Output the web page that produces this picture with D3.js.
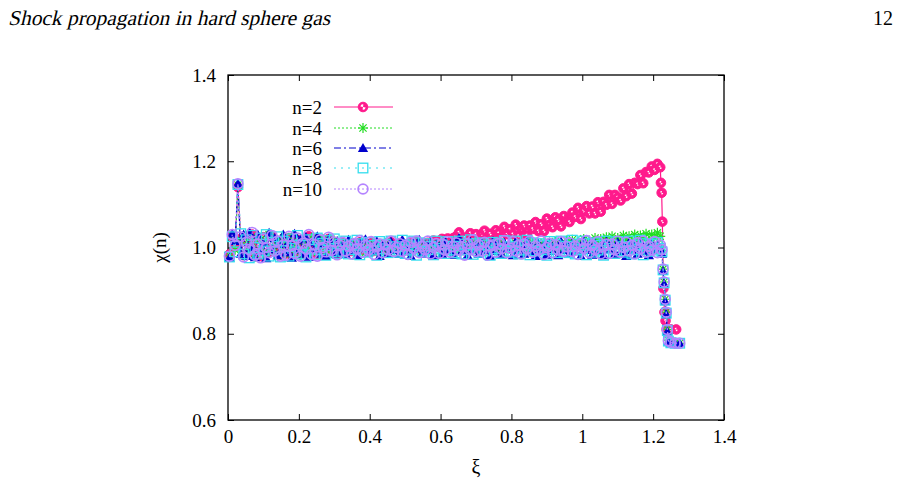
<!DOCTYPE html>
<html>
<head>
<meta charset="utf-8">
<script src="https://cdn.jsdelivr.net/npm/d3@7"></script>
<style>
  body { margin: 0; background: #fff; }
  svg text { font-family: "Liberation Serif", "DejaVu Serif", serif; fill: #000; }
</style>
</head>
<body>
<div id="chart"></div>
<script>
var width = 900, height = 490;

// shared xi grid (before the shock front)
var xiGrid = [
  0.004, 0.012, 0.020, 0.028, 0.036, 0.044, 0.052, 0.060, 0.068, 0.076,
  0.084, 0.092, 0.100, 0.108, 0.116, 0.124, 0.132, 0.140, 0.148, 0.156,
  0.164, 0.172, 0.180, 0.188, 0.196, 0.204, 0.212, 0.220, 0.228, 0.236,
  0.244, 0.252, 0.260, 0.268, 0.276, 0.284, 0.292, 0.300, 0.308, 0.316,
  0.324, 0.332, 0.340, 0.348, 0.356, 0.364, 0.372, 0.380, 0.388, 0.396,
  0.404, 0.412, 0.420, 0.428, 0.436, 0.444, 0.452, 0.460, 0.468, 0.476,
  0.484, 0.492, 0.500, 0.508, 0.516, 0.524, 0.532, 0.540, 0.548, 0.556,
  0.564, 0.572, 0.580, 0.588, 0.596, 0.604, 0.612, 0.620, 0.628, 0.636,
  0.644, 0.652, 0.660, 0.668, 0.676, 0.684, 0.692, 0.700, 0.708, 0.716,
  0.724, 0.732, 0.740, 0.748, 0.756, 0.764, 0.772, 0.780, 0.788, 0.796,
  0.804, 0.812, 0.820, 0.828, 0.836, 0.844, 0.852, 0.860, 0.868, 0.876,
  0.884, 0.892, 0.900, 0.908, 0.916, 0.924, 0.932, 0.940, 0.948, 0.956,
  0.964, 0.972, 0.980, 0.988, 0.996, 1.004, 1.012, 1.020, 1.028, 1.036,
  1.044, 1.052, 1.060, 1.068, 1.076, 1.084, 1.092, 1.100, 1.108, 1.116,
  1.124, 1.132, 1.140, 1.148, 1.156, 1.164, 1.172, 1.180, 1.188, 1.196,
  1.204, 1.212, 1.220];

// xi values across the front
var xiTail2 = [1.222, 1.224, 1.226, 1.229, 1.232, 1.235, 1.238, 1.250, 1.265];
var xiTail = [1.225, 1.228, 1.231, 1.234, 1.237, 1.240, 1.243, 1.250, 1.262, 1.275];

var chi2 = [
  0.984, 1.026, 1.002, 1.140, 1.020, 0.982, 1.015, 0.992, 1.030, 0.986,
  1.010, 0.980, 1.024, 0.998, 0.990, 1.025, 0.995, 1.012, 0.984, 1.008,
  0.986, 1.022, 1.002, 0.990, 1.018, 0.984, 1.012, 0.998, 1.026, 0.988,
  1.008, 0.985, 1.016, 1.002, 0.992, 1.020, 0.996, 1.012, 0.986, 1.006,
  1.010, 0.996, 1.004, 0.992, 1.008, 1.000, 1.012, 0.995, 1.006, 0.998,
  1.010, 0.992, 1.004, 1.008, 0.995, 1.006, 1.000, 1.012, 0.997, 1.004,
  1.009, 0.998, 1.006, 0.994, 1.010, 1.002, 1.013, 0.998, 1.008, 1.003,
  1.011, 1.002, 1.016, 1.002, 1.012, 1.020, 1.007, 1.021, 1.012, 1.022,
  1.026, 1.035, 1.011, 1.023, 1.011, 1.033, 1.019, 1.031, 1.016, 1.031,
  1.039, 1.020, 1.032, 1.016, 1.040, 1.033, 1.024, 1.048, 1.031, 1.042,
  1.031, 1.053, 1.027, 1.044, 1.051, 1.028, 1.051, 1.043, 1.059, 1.038,
  1.054, 1.038, 1.067, 1.052, 1.047, 1.070, 1.063, 1.049, 1.073, 1.062,
  1.059, 1.081, 1.071, 1.092, 1.066, 1.085, 1.096, 1.079, 1.095, 1.079,
  1.105, 1.083, 1.106, 1.099, 1.122, 1.101, 1.122, 1.116, 1.109, 1.137,
  1.119, 1.147, 1.125, 1.150, 1.147, 1.168, 1.149, 1.175, 1.174, 1.188,
  1.180, 1.194, 1.186];
var tail2 = [1.150, 1.127, 1.060, 0.905, 0.850, 0.830, 0.810, 0.810, 0.810];

var chi4 = [
  0.982, 1.028, 0.995, 1.145, 1.018, 0.984, 1.026, 0.990, 1.012, 0.979,
  1.024, 0.996, 1.015, 0.985, 1.030, 0.992, 1.006, 0.980, 1.020, 0.998,
  1.012, 0.984, 1.025, 0.994, 1.008, 0.982, 1.018, 1.000, 0.988, 1.022,
  0.992, 1.014, 0.985, 1.020, 0.996, 1.006, 0.988, 1.016, 0.994, 1.010,
  0.990, 1.006, 0.996, 1.010, 0.992, 1.003, 0.998, 1.009, 0.989, 1.005,
  0.997, 1.008, 0.991, 1.004, 0.999, 1.010, 0.990, 1.006, 0.996, 1.003,
  0.992, 1.009, 0.997, 1.004, 0.989, 1.007, 0.998, 1.010, 0.993, 1.005,
  0.998, 1.008, 0.992, 1.004, 1.000, 1.010, 0.991, 1.006, 0.996, 1.003,
  0.993, 1.009, 0.998, 1.005, 0.990, 1.007, 0.997, 1.011, 0.994, 1.004,
  0.999, 1.008, 0.992, 1.005, 1.000, 1.010, 0.993, 1.006, 0.997, 1.004,
  0.994, 1.010, 0.999, 1.006, 0.992, 1.008, 1.000, 1.012, 0.996, 1.006,
  1.002, 1.012, 0.996, 1.008, 1.004, 1.014, 0.998, 1.010, 1.004, 1.016,
  1.006, 1.018, 1.002, 1.012, 1.008, 1.020, 1.004, 1.016, 1.010, 1.022,
  1.008, 1.020, 1.012, 1.024, 1.010, 1.026, 1.014, 1.022, 1.012, 1.028,
  1.016, 1.026, 1.014, 1.030, 1.018, 1.028, 1.020, 1.032, 1.016, 1.030,
  1.022, 1.034, 1.026];
var tail4 = [1.000, 0.950, 0.920, 0.880, 0.850, 0.810, 0.785, 0.780, 0.778, 0.778];

var chi6 = [
  0.976, 1.032, 1.015, 1.148, 0.985, 1.030, 0.980, 1.036, 1.000, 0.977,
  1.030, 0.990, 1.010, 0.975, 1.034, 0.995, 1.022, 0.982, 1.008, 1.030,
  0.988, 1.015, 0.976, 1.032, 0.995, 1.018, 0.985, 1.024, 0.978, 1.012,
  0.996, 1.026, 0.985, 1.008, 0.980, 1.020, 1.002, 0.986, 1.015, 0.990,
  1.006, 0.985, 1.018, 0.994, 1.003, 0.982, 1.012, 0.998, 1.019, 0.988,
  1.003, 0.992, 1.015, 0.980, 1.006, 1.000, 0.986, 1.014, 0.994, 1.009,
  0.985, 1.018, 0.992, 1.005, 0.980, 1.012, 0.997, 1.018, 0.986, 1.006,
  0.991, 1.015, 0.982, 1.008, 1.002, 0.985, 1.016, 0.994, 1.008, 0.983,
  1.009, 1.022, 0.991, 1.003, 0.982, 1.014, 0.995, 1.006, 0.985, 1.012,
  0.994, 1.005, 0.980, 1.015, 0.992, 1.008, 0.985, 1.011, 0.997, 1.005,
  0.982, 1.014, 0.994, 1.006, 0.985, 1.015, 0.991, 1.003, 0.980, 1.009,
  0.995, 1.006, 0.983, 1.012, 0.992, 1.003, 0.982, 1.014, 0.994, 1.008,
  0.985, 1.011, 0.991, 1.005, 0.980, 1.015, 0.994, 1.006, 0.983, 1.009,
  0.992, 1.003, 0.982, 1.014, 0.995, 1.008, 0.985, 1.012, 0.991, 1.005,
  0.980, 1.012, 0.994, 1.006, 0.985, 1.014, 0.992, 1.003, 0.982, 1.009,
  0.994, 1.006, 0.997];
var tail6 = [0.985, 0.945, 0.915, 0.875, 0.845, 0.805, 0.782, 0.778, 0.778, 0.778];

var chi8 = [
  0.978, 1.025, 0.990, 1.146, 1.032, 0.985, 1.018, 0.976, 1.028, 1.000,
  0.985, 1.022, 0.992, 1.030, 0.980, 1.012, 0.995, 1.025, 0.978, 1.015,
  1.002, 0.980, 1.020, 0.990, 1.028, 0.985, 1.005, 0.978, 1.018, 0.996,
  0.984, 1.022, 0.995, 1.010, 0.982, 1.016, 0.990, 1.020, 0.986, 1.008,
  0.991, 1.015, 0.985, 1.006, 0.995, 1.017, 0.983, 1.009, 0.989, 1.012,
  0.994, 1.005, 0.982, 1.014, 0.997, 1.008, 0.988, 1.015, 0.992, 1.002,
  0.989, 1.017, 0.986, 1.006, 0.994, 1.015, 0.982, 1.011, 0.991, 1.009,
  0.995, 1.003, 0.983, 1.015, 0.998, 1.006, 0.986, 1.014, 0.994, 1.003,
  0.988, 1.015, 0.985, 1.008, 0.995, 1.018, 0.984, 1.009, 0.989, 1.011,
  0.992, 1.006, 0.982, 1.012, 0.997, 1.009, 0.986, 1.016, 0.991, 1.002,
  0.989, 1.015, 0.985, 1.006, 0.994, 1.017, 0.983, 1.011, 0.992, 1.009,
  0.995, 1.005, 0.982, 1.014, 0.997, 1.008, 0.988, 1.015, 0.991, 1.003,
  0.988, 1.017, 0.985, 1.008, 0.995, 1.015, 0.983, 1.009, 0.989, 1.011,
  0.994, 1.005, 0.982, 1.015, 0.998, 1.006, 0.986, 1.014, 0.992, 1.002,
  0.989, 1.015, 0.985, 1.006, 0.995, 1.017, 0.983, 1.009, 0.991, 1.008,
  0.994, 1.012, 0.998];
var tail8 = [0.990, 0.948, 0.918, 0.878, 0.848, 0.808, 0.783, 0.779, 0.778, 0.778];

var chi10 = [
  0.980, 1.030, 1.005, 1.148, 1.025, 0.978, 1.012, 0.995, 1.035, 0.982,
  1.008, 0.976, 1.020, 1.000, 0.988, 1.028, 0.992, 1.015, 0.980, 1.006,
  0.982, 1.026, 1.004, 0.986, 1.022, 0.980, 1.010, 0.996, 1.030, 0.984,
  1.007, 0.980, 1.018, 1.000, 0.990, 1.024, 0.993, 1.013, 0.983, 1.005,
  1.012, 0.992, 1.003, 0.985, 1.009, 0.997, 1.016, 0.989, 1.005, 0.994,
  1.014, 0.984, 1.002, 1.008, 0.988, 1.006, 0.995, 1.015, 0.991, 1.000,
  1.009, 0.991, 1.005, 0.984, 1.012, 0.998, 1.015, 0.988, 1.003, 0.995,
  1.015, 0.985, 1.000, 1.009, 0.986, 1.008, 0.994, 1.014, 0.989, 1.002,
  1.011, 0.994, 1.002, 0.982, 1.009, 0.995, 1.018, 0.991, 1.006, 0.992,
  1.012, 0.982, 1.003, 1.006, 0.989, 1.009, 0.997, 1.016, 0.988, 0.998,
  1.014, 0.992, 1.005, 0.985, 1.008, 0.997, 1.015, 0.989, 1.003, 0.994,
  1.015, 0.984, 1.000, 1.009, 0.988, 1.006, 0.994, 1.014, 0.991, 1.002,
  1.011, 0.991, 1.003, 0.984, 1.009, 0.998, 1.016, 0.988, 1.005, 0.995,
  1.014, 0.985, 1.002, 1.008, 0.986, 1.008, 0.995, 1.015, 0.989, 1.000,
  1.012, 0.992, 1.005, 0.985, 1.011, 0.997, 1.015, 0.989, 1.003, 0.994,
  1.014, 0.988, 1.006];
var tail10 = [0.995, 0.950, 0.920, 0.880, 0.850, 0.810, 0.784, 0.780, 0.778, 0.778];

var seriesNames = ["n=2", "n=4", "n=6", "n=8", "n=10"];
var seriesColors = ["#ff1a8c", "#22dd22", "#0000cc", "#33ddee", "#b484ff"];

var xTicks = [0, 0.2, 0.4, 0.6, 0.8, 1, 1.2, 1.4];
var xTickLabels = ["0", "0.2", "0.4", "0.6", "0.8", "1", "1.2", "1.4"];
var yTicks = [0.6, 0.8, 1.0, 1.2, 1.4];
var yTickLabels = ["0.6", "0.8", "1.0", "1.2", "1.4"];

var series = [
  { name: seriesNames[0], xs: xiGrid.concat(xiTail2), ys: chi2.concat(tail2), color: seriesColors[0], dash: null, marker: "dotcircle" },
  { name: seriesNames[1], xs: xiGrid.concat(xiTail), ys: chi4.concat(tail4), color: seriesColors[1], dash: "2,2", marker: "star" },
  { name: seriesNames[2], xs: xiGrid.concat(xiTail), ys: chi6.concat(tail6), color: seriesColors[2], dash: "7,3,2,3", marker: "triangle" },
  { name: seriesNames[3], xs: xiGrid.concat(xiTail), ys: chi8.concat(tail8), color: seriesColors[3], dash: "2,5", marker: "square" },
  { name: seriesNames[4], xs: xiGrid.concat(xiTail), ys: chi10.concat(tail10), color: seriesColors[4], dash: "2,2", marker: "circle" }
];

var serif = "'Liberation Serif', 'DejaVu Serif', serif";

var svg = d3.select("#chart").append("svg")
  .attr("width", width)
  .attr("height", height);

// page header (regular serif, slanted by hand)
svg.append("g")
  .attr("transform", "translate(8,25) skewX(-13)")
  .append("text")
  .attr("textLength", 322)
  .attr("lengthAdjust", "spacingAndGlyphs")
  .style("font-family", serif)
  .style("font-size", "21px")
  .text("Shock propagation in hard sphere gas");
svg.append("text")
  .attr("x", 893).attr("y", 25)
  .attr("text-anchor", "end")
  .style("font-family", serif)
  .style("font-size", "20px")
  .text("12");

var x = d3.scaleLinear().domain([0, 1.4]).range([228, 724]);
var y = d3.scaleLinear().domain([0.6, 1.4]).range([420, 75]);

// axes (ticks pointing inwards, mirrored)
svg.append("g")
  .attr("transform", "translate(0," + y(0.6) + ")")
  .call(d3.axisBottom(x).tickValues(xTicks).tickSize(-6).tickPadding(10)
    .tickFormat(function(d, i) { return xTickLabels[i]; }));
svg.append("g")
  .attr("transform", "translate(" + x(0) + ",0)")
  .call(d3.axisLeft(y).tickValues(yTicks).tickSize(-6).tickPadding(12)
    .tickFormat(function(d, i) { return yTickLabels[i]; }));
svg.append("g")
  .attr("transform", "translate(0," + y(1.4) + ")")
  .call(d3.axisTop(x).tickValues(xTicks).tickSize(-6).tickFormat(""));
svg.append("g")
  .attr("transform", "translate(" + x(1.4) + ",0)")
  .call(d3.axisRight(y).tickValues(yTicks).tickSize(-6).tickFormat(""));

svg.selectAll(".domain").remove();
svg.selectAll(".tick line").attr("stroke", "#000");
svg.selectAll(".tick text")
  .style("font-family", serif)
  .style("font-size", "19px")
  .attr("fill", "#000");

svg.append("rect")
  .attr("x", x(0)).attr("y", y(1.4))
  .attr("width", x(1.4) - x(0)).attr("height", y(0.6) - y(1.4))
  .attr("fill", "none").attr("stroke", "#000").attr("stroke-width", 1.3);

// axis titles
svg.append("text")
  .attr("x", x(0.7)).attr("y", 474)
  .attr("text-anchor", "middle")
  .style("font-family", serif)
  .style("font-size", "20px")
  .text("ξ");
svg.append("text")
  .attr("transform", "translate(166," + y(1.0) + ") rotate(-90)")
  .attr("text-anchor", "middle")
  .style("font-family", serif)
  .style("font-size", "19px")
  .text("χ(n)");

function drawMarker(g, type, color, holes) {
  if (type === "dotcircle") {
    g.append("circle").attr("r", 4.8).attr("fill", color).attr("stroke", color).attr("stroke-width", 1);
    var h = holes || 1.6;
    g.append("path").attr("d", "M" + (-h) + ",-0.4 A" + h + "," + h + " 0 0 1 0.4," + (-h) + " L0,0 Z").attr("fill", "#fff");
    g.append("path").attr("d", "M" + h + ",0.4 A" + h + "," + h + " 0 0 1 -0.4," + h + " L0,0 Z").attr("fill", "#fff");
  } else if (type === "star") {
    g.append("path").attr("d", "M-5,0H5M0,-5V5M-3.6,-3.6L3.6,3.6M-3.6,3.6L3.6,-3.6")
      .attr("stroke", color).attr("stroke-width", 1.2).attr("fill", "none");
  } else if (type === "triangle") {
    g.append("path").attr("d", d3.symbol().type(d3.symbolTriangle).size(46)())
      .attr("transform", "translate(0,0.9)")
      .attr("fill", color);
  } else if (type === "square") {
    g.append("rect").attr("x", -4.8).attr("y", -4.8).attr("width", 9.6).attr("height", 9.6)
      .attr("fill", "none").attr("stroke", color).attr("stroke-width", 1.3);
  } else {
    g.append("circle").attr("r", 4.9).attr("fill", "none").attr("stroke", color).attr("stroke-width", 1.7);
  }
}

var line = d3.line().x(function(d) { return x(d[0]); }).y(function(d) { return y(d[1]); });

var plot = svg.append("g");
series.forEach(function(s) {
  var pts = s.xs.map(function(v, i) { return [v, s.ys[i]]; });
  plot.append("path")
    .datum(pts)
    .attr("d", line)
    .attr("fill", "none")
    .attr("stroke", s.color)
    .attr("stroke-width", 1.2)
    .attr("stroke-dasharray", s.dash);
  plot.selectAll(null)
    .data(pts)
    .enter().append("g")
    .attr("transform", function(d) { return "translate(" + x(d[0]) + "," + y(d[1]) + ")"; })
    .each(function() { drawMarker(d3.select(this), s.marker, s.color); });
});

// legend
var legendY = [107, 128, 148, 168, 189];
var legend = svg.append("g");
series.forEach(function(s, i) {
  var row = legend.append("g").attr("transform", "translate(0," + legendY[i] + ")");
  row.append("text")
    .attr("x", 322).attr("dy", "0.35em")
    .attr("text-anchor", "end")
    .style("font-family", serif)
    .style("font-size", "19px")
    .text(s.name);
  row.append("line")
    .attr("x1", 334).attr("x2", 393)
    .attr("stroke", s.color).attr("stroke-width", 1)
    .attr("stroke-dasharray", s.dash);
  drawMarker(row.append("g").attr("transform", "translate(363,0)"), s.marker, s.color, 2.6);
});
</script>
</body>
</html>
